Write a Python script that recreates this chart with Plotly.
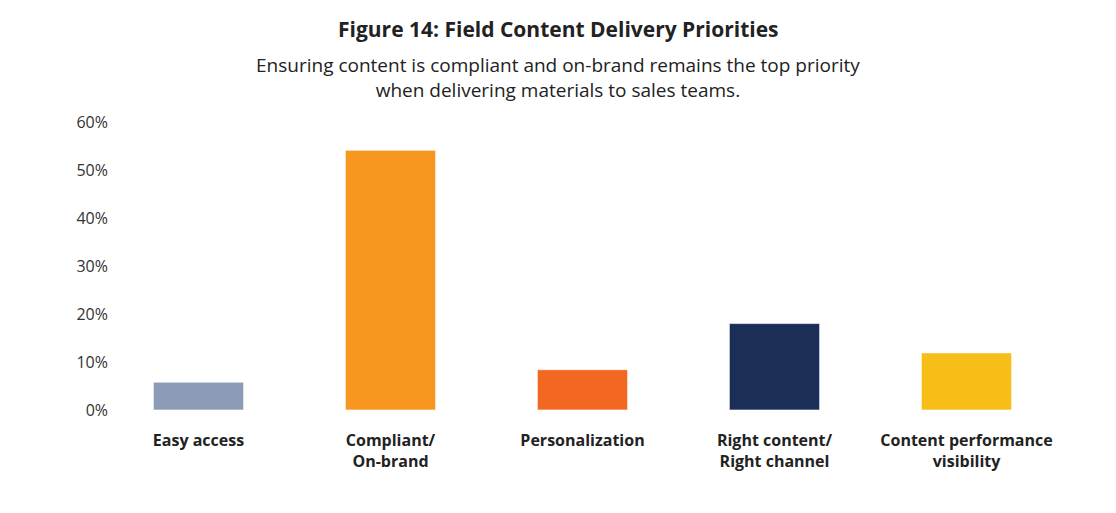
import plotly.graph_objects as go

# Field content delivery priorities (share of respondents, %)
categories = ["Easy access", "Compliant/<br>On-brand", "Personalization",
              "Right content/<br>Right channel", "Content performance<br>visibility"]
values = [5.8, 54.1, 8.4, 18.0, 11.9]
bar_colors = ["#8e9bb6", "#f7971f", "#f26823", "#1b2e58", "#f7be17"]
y_ticks = [0, 10, 20, 30, 40, 50, 60]

FONT = "Open Sans"
W, H = 1100, 497  # page body adds an 8px margin

fig = go.Figure()

fig.add_trace(go.Bar(
    x=categories, y=values,
    marker=dict(color=bar_colors, line=dict(color="rgba(255,255,255,0.6)", width=1)),
    width=0.47, hoverinfo="x+y",
))

fig.update_layout(
    width=W, height=H,
    margin=dict(l=0, r=0, t=114, b=95),
    paper_bgcolor="white", plot_bgcolor="white",
    font=dict(family=FONT, color="#222222"),
    showlegend=False,
    xaxis=dict(
        domain=[94.5 / W, 1054.5 / W],
        range=[-0.5, 4.5],
        showline=False, showgrid=False, zeroline=False,
        ticks="outside", ticklen=16, tickcolor="rgba(0,0,0,0)",
        tickfont=dict(family=FONT, size=16, color="#222222", weight="bold"),
    ),
    yaxis=dict(
        range=[0, 60],
        tickvals=y_ticks, ticktext=[f"{v}%" for v in y_ticks],
        anchor="free", position=100 / W,
        showline=False, showgrid=False, zeroline=False,
        tickfont=dict(family=FONT, size=16, color="#333333"),
    ),
)

fig.add_annotation(
    text="<b>Figure 14: Field Content Delivery Priorities</b>",
    xref="paper", yref="paper", x=0.5, y=1, yshift=93, yanchor="middle",
    showarrow=False, font=dict(family=FONT, size=21, color="#222222"),
)
fig.add_annotation(
    text="Ensuring content is compliant and on-brand remains the top priority<br>"
         "when delivering materials to sales teams.",
    xref="paper", yref="paper", x=0.5, y=1, yshift=45, yanchor="middle",
    showarrow=False, font=dict(family=FONT, size=19, color="#222222"),
)

fig.write_html("out.html")
